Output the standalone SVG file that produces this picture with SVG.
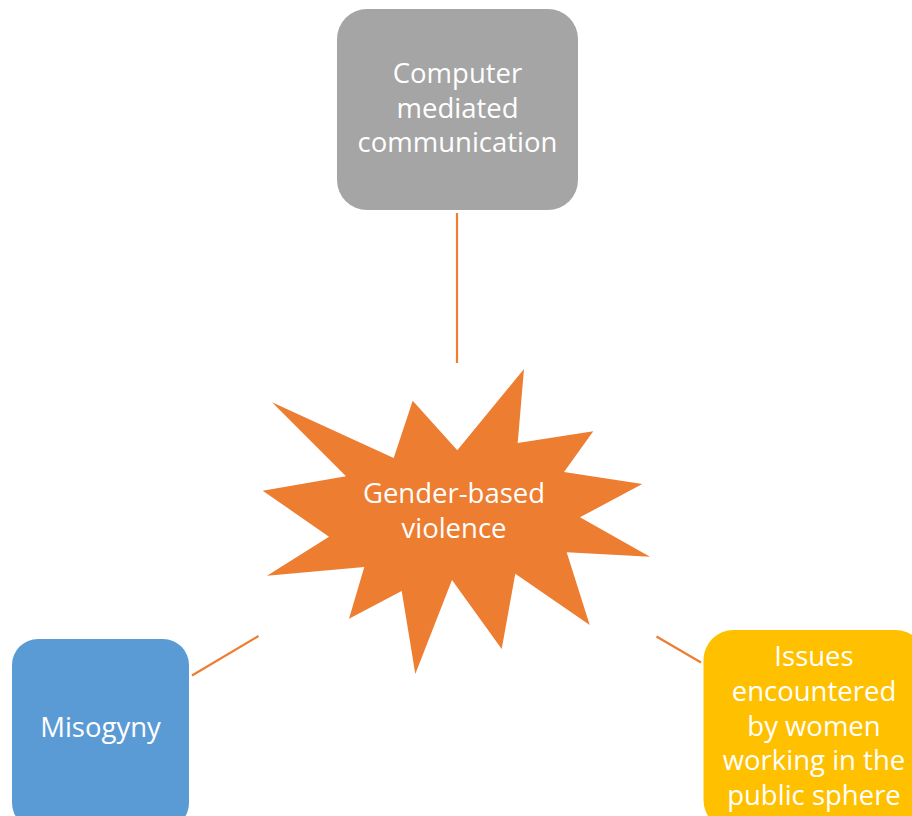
<svg xmlns="http://www.w3.org/2000/svg" width="912" height="816" viewBox="0 0 912 816">
<style>
.t{font-family:"Open Sans","Liberation Sans",sans-serif;font-size:27.5px;fill:#ffffff;text-anchor:middle}
.c{stroke:#ED7D31;stroke-width:2.2;fill:none}
</style>
<rect width="912" height="816" fill="#ffffff"/>
<g id="connectors">
<line class="c" x1="457" y1="213" x2="457" y2="363"/>
<line class="c" x1="192" y1="675.5" x2="258.5" y2="636"/>
<line class="c" x1="656.5" y1="636.5" x2="701" y2="662.5"/>
</g>
<g id="cmc">
<rect x="337" y="9" width="241" height="201" rx="30" fill="#A5A5A5"/>
<text class="t" x="457.5" y="83">Computer</text>
<text class="t" x="457.5" y="117.5">mediated</text>
<text class="t" x="457.5" y="152">communication</text>
</g>
<g id="gbv">
<polygon fill="#ED7D31" points="524,369 517.7,443 593.3,431.3 564,472 642.3,484 580,517.3 650,556.7 566.7,552.3 589.7,625 515.3,573.7 501.7,649 452,580 415.3,674 401.7,591 349,618.7 364.3,567 267,575.7 329,536.7 262.7,490.7 346,476.3 272,402.3 393.7,458 412.7,400.7 457.3,450.3"/>
<text class="t" x="454" y="503">Gender-based</text>
<text class="t" x="454" y="538">violence</text>
</g>
<g id="misogyny">
<rect x="12" y="639" width="177" height="190" rx="26" fill="#5B9BD5"/>
<text class="t" x="100.5" y="737">Misogyny</text>
</g>
<g id="issues">
<rect x="703.5" y="630" width="222" height="200" rx="30" fill="#FFC000"/>
<text class="t" x="814" y="666">Issues</text>
<text class="t" x="814" y="701">encountered</text>
<text class="t" x="814" y="735.5">by women</text>
<text class="t" x="814" y="770">working in the</text>
<text class="t" x="814" y="805">public sphere</text>
</g>
</svg>
